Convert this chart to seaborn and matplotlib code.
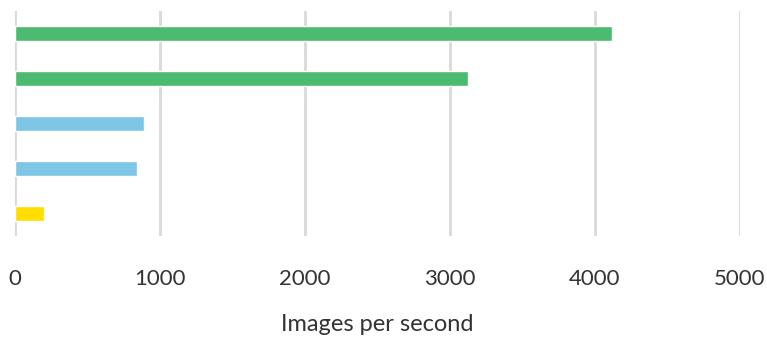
import matplotlib
matplotlib.use("Agg")
import matplotlib.pyplot as plt
import seaborn as sbn

# valores (de arriba hacia abajo)
categorias = ["a", "b", "c", "d", "e"]
imagenes_por_segundo = [4120, 3125, 890, 843, 201]
colores = ["#4CBA71", "#4CBA71", "#7DC6E5", "#7DC6E5", "#FFDD00"]
ticks_x = [0, 1000, 2000, 3000, 4000, 5000]

sbn.set_style("white")
plt.rcParams["font.family"] = ["Lato", "DejaVu Sans"]

fig = plt.figure(figsize = (7.67, 3.4), dpi = 100)
ax = fig.add_axes([0.0193, 0.306, 0.9455, 0.662])

sbn.barplot(x = imagenes_por_segundo, y = categorias, hue = categorias,
            palette = colores, width = 0.33, legend = False, saturation = 1,
            ax = ax, zorder = 3)

ax.set_xlim(0, 5000)
ax.set_ylim(4.5, -0.5)
ax.set_xticks(ticks_x)
ax.set_xticklabels([str(t) for t in ticks_x], fontsize = 16, color = "#333333")
ax.set_yticks([])
ax.tick_params(axis = "x", length = 0, pad = 24)
ax.grid(axis = "x", color = "#d9d9d9", linewidth = 2)
ax.set_axisbelow(True)
for lado in ax.spines.values():
    lado.set_visible(False)

ax.set_xlabel("Images per second", fontsize = 17, color = "#333333", labelpad = 18)
ax.set_ylabel("")

fig.savefig("out.png", dpi = 100)
plt.close()
